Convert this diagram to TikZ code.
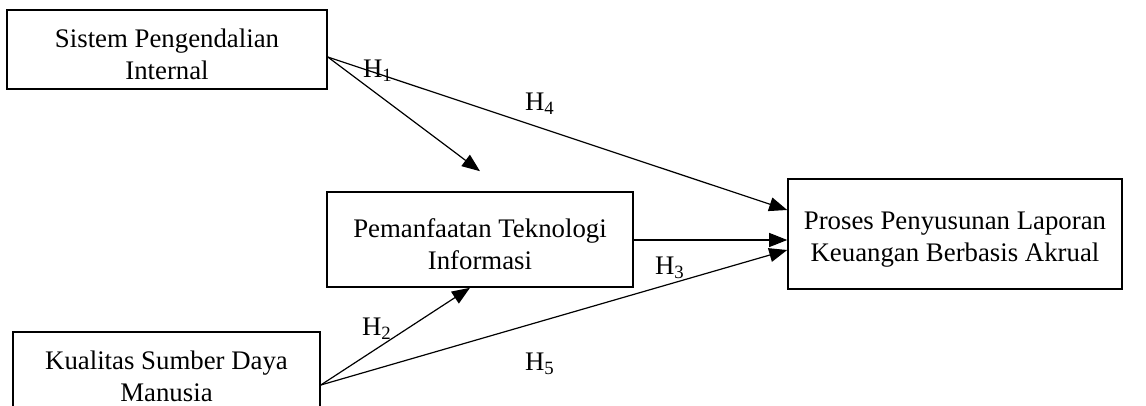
\documentclass[tikz,border=0pt]{standalone}
\usepackage{fontspec}
\setmainfont{Liberation Serif}
\usetikzlibrary{arrows.meta}
\newcommand{\topstrut}{\rule{0pt}{14pt}}
\begin{document}
\begin{tikzpicture}[x=0.5pt,y=-0.5pt,
  varbox/.style={draw, line width=0.8pt, rectangle, align=center, inner sep=0pt,
    font=\fontsize{13.4}{16}\selectfont},
  link/.style={line width=0.6pt, -{Triangle[length=9pt,width=7pt]}},
  hlabel/.style={font=\fontsize{13.4}{16}\selectfont, inner sep=0pt}]
\useasboundingbox (0,0) rectangle (1146,406);
\clip (0,0) rectangle (1146,406);
\node[varbox, minimum width=160pt, minimum height=39.5pt] (spi) at (167,49.5) {\topstrut Sistem Pengendalian\\Internal};
\node[varbox, minimum width=153pt, minimum height=47.5pt] (pti) at (480,239.5) {\topstrut Pemanfaatan Teknologi\\Informasi};
\node[varbox, minimum width=167pt, minimum height=55pt] (pplk) at (955,234) {\topstrut Proses Penyusunan Laporan\\Keuangan Berbasis Akrual};
\node[varbox, minimum width=153.5pt, minimum height=40pt] (ksdm) at (166.5,372) {\topstrut Kualitas Sumber Daya\\Manusia};
\coordinate (h1tip) at ([yshift=10pt]pti.north);
\draw[link] ([yshift=-3.75pt]spi.east) -- (h1tip);
\draw[link] ([yshift=-3.75pt]spi.east) -- ([yshift=12pt]pplk.west);
\draw[link] ([yshift=-3pt]pplk.west -| pti.east) -- ([yshift=-3pt]pplk.west);
\draw[link] ([yshift=-6.5pt]ksdm.east) -- ([xshift=-5pt]pti.south);
\draw[link] ([yshift=-6.5pt]ksdm.east) -- ([yshift=-8pt]pplk.west);
\node[hlabel] (l1) at (378,71) {H\textsubscript{1}};
\node[hlabel] (l4) at (540,104) {H\textsubscript{4}};
\node[hlabel] (l3) at (670,268) {H\textsubscript{3}};
\node[hlabel] (l2) at (377,329) {H\textsubscript{2}};
\node[hlabel] (l5) at (540,364) {H\textsubscript{5}};
\end{tikzpicture}
\end{document}
